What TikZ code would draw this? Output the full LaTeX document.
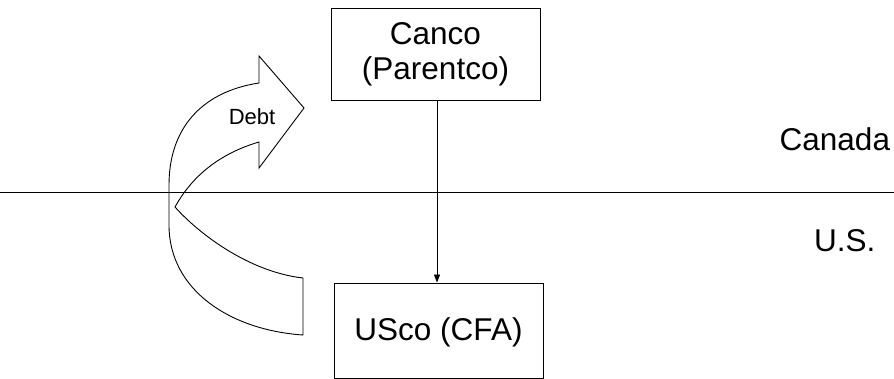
\documentclass[tikz,border=0pt]{standalone}
\usepackage{fontspec}
\setmainfont{Liberation Sans}
\usetikzlibrary{arrows.meta}
\begin{document}
\begin{tikzpicture}[x=1pt,y=-1pt,
  box/.style={draw=black,line width=0.9pt,inner sep=0pt},
  big/.style={font=\fontsize{31.5}{35}\selectfont},
  lbl/.style={inner sep=0pt,font=\fontsize{31.5}{35}\selectfont},
  link/.style={draw=black,line width=0.9pt,-{Triangle[length=8pt,width=6pt]}}]
\useasboundingbox (0,0) rectangle (894,379);
\fill[white] (0,0) rectangle (894,379);
% border line
\coordinate (L) at (0,192);
\coordinate (R) at (894,192);
\draw[line width=0.9pt] (L) -- (R);
% boxes
\node[box,minimum width=209pt,minimum height=92pt,align=center,big] (canco) at (435.5,54) {Canco\\(Parentco)};
\node[box,minimum width=209pt,minimum height=95pt,big] (usco) at (438.5,330.5) {};
\node[lbl,anchor=base] (uscot) at (438.5,340) {USco (CFA)};
\draw[link] (canco.south -| 437,0) -- (usco.north -| 437,0);
% country labels
\node[lbl,anchor=base west] (canada) at (779.5,151) {Canada};
\node[lbl,anchor=base west] (us) at (814,252) {U.S.};
% curved arrow
\draw[line width=0.9pt,line join=miter]
  (304,108) -- (259,168) -- (259,142)
  .. controls (215,155) and (190,180) .. (175,207)
  .. controls (200,235) and (250,272) .. (303,278)
  -- (303,335)
  .. controls (230,330) and (169,290) .. (169,225)
  -- (169,185)
  .. controls (169,130) and (200,92) .. (259,83)
  -- (259,56) -- cycle;
\node[inner sep=0pt,font=\fontsize{22}{26}\selectfont] (debt) at (252,117) {Debt};
\end{tikzpicture}
\end{document}
